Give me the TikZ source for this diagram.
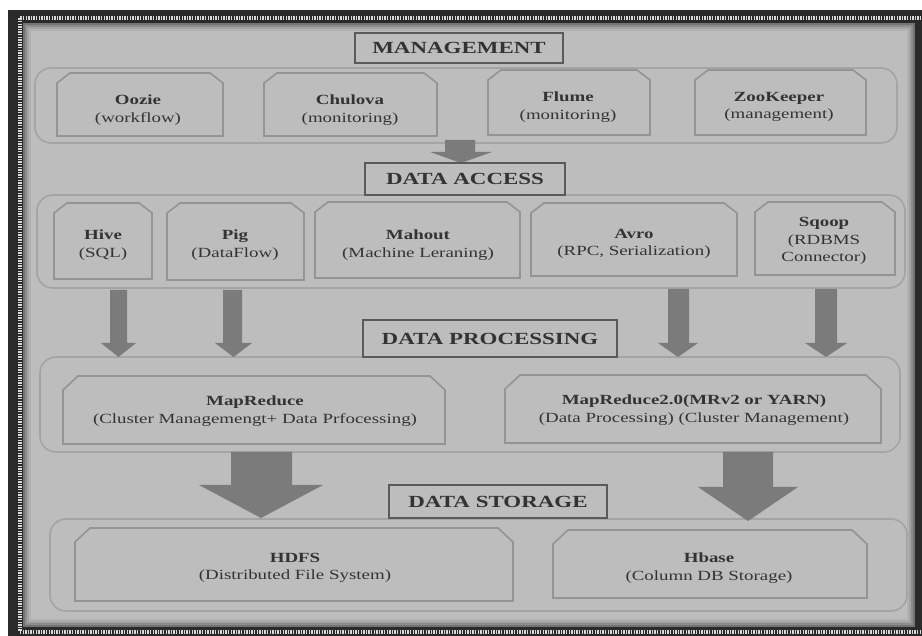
\documentclass[tikz,border=0pt]{standalone}
\usepackage{fontspec}
\setmainfont{Liberation Serif}
\newfontfamily\dfont[FakeStretch=1.35]{Liberation Serif}
\definecolor{bgc}{HTML}{BDBDBD}
\definecolor{framec}{HTML}{2A2A2A}
\definecolor{arrc}{HTML}{7B7B7B}
\definecolor{boxc}{HTML}{949494}
\definecolor{contc}{HTML}{A4A4A4}
\definecolor{headc}{HTML}{5A5A5A}
\definecolor{txtc}{HTML}{333333}
\newcommand\cbox[7]{%
  \draw[boxline] (#2,#5) -- (#2,{#3+#7}) -- ({#2+#6},#3) -- ({#4-#6},#3) -- (#4,{#3+#7}) -- (#4,#5) -- cycle;
  \coordinate (#1) at ({(#2+#4)/2},{(#3+#5)/2});}
\newcommand\darrow[8]{% name, shaft x1, x2, top, head y, head x1, x2, tip y
  \fill[arrc] (#2,#4) -- (#3,#4) -- (#3,#5) -- (#7,#5) -- ({(#6+#7)/2},#8) -- (#6,#5) -- (#2,#5) -- cycle;
  \coordinate (#1) at ({(#6+#7)/2},#8);}
\begin{document}
\begin{tikzpicture}[x=1pt,y=-1pt,
  container/.style={draw=contc, line width=1.6pt, rounded corners=16pt, fill=bgc, inner sep=0pt},
  boxline/.style={draw=boxc, line width=1.6pt},
  head/.style={draw=headc, line width=2pt, fill=bgc, inner sep=0pt, text=txtc,
     font=\dfont\bfseries\fontsize{17}{20}\selectfont},
  txt/.style={align=center, text=txtc, inner sep=0pt, font=\dfont\fontsize{14}{17.5}\selectfont}]
\useasboundingbox (0,0) rectangle (922,636);
\fill[white] (0,0) rectangle (922,636);
% frame
\fill[framec] (8,10) rectangle (922,636);
\draw[white!85!black, line width=4pt, dash pattern=on 1.3pt off 1.3pt] (19.5,18.5) rectangle (926,631.5);
\fill[black!55] (23,23) rectangle (915,627);
\fill[black!45] (25,25) rectangle (913,625);
\fill[black!36] (27,27) rectangle (911,623);
\fill[black!30] (29,29) rectangle (909,621);
\fill[bgc] (31,31) rectangle (907,619);
% containers
\node[container, minimum width=862pt, minimum height=75pt] (cmgmt) at (466,105.5) {};
\node[container, minimum width=868pt, minimum height=93pt] (cacc) at (471,241.5) {};
\node[container, minimum width=860pt, minimum height=95pt] (cproc) at (470,404.5) {};
\node[container, minimum width=857pt, minimum height=92pt] (cstor) at (478.5,565) {};
% management boxes
\cbox{boozie}{57}{73}{223}{136}{13}{10}
\cbox{bchu}{264}{73}{437}{136}{13}{10}
\cbox{bflume}{488}{70}{650}{135}{13}{10}
\cbox{bzoo}{695}{70}{866}{135}{13}{10}
\node[txt] (oozie) at (138,110) {\textbf{Oozie}\\(workflow)};
\node[txt] (chukwa) at (350,110) {\textbf{Chulova}\\(monitoring)};
\node[txt] (flume) at (568,107) {\textbf{Flume}\\(monitoring)};
\node[txt] (zoo) at (779,107) {\textbf{ZooKeeper}\\(management)};
% data access boxes
\cbox{bhive}{54}{203}{152}{279}{13}{10}
\cbox{bpig}{167}{203}{304}{280}{13}{10}
\cbox{bmah}{315}{202}{520}{278}{13}{10}
\cbox{bavro}{531}{203}{737}{276}{13}{10}
\cbox{bsqoop}{755}{202}{895}{275}{13}{10}
\node[txt] (hive) at (103,245) {\textbf{Hive}\\(SQL)};
\node[txt] (pig) at (235,245) {\textbf{Pig}\\(DataFlow)};
\node[txt] (mahout) at (418,245) {\textbf{Mahout}\\(Machine Leraning)};
\node[txt] (avro) at (634,244) {\textbf{Avro}\\(RPC, Serialization)};
\node[txt] (sqoop) at (824,241) {\textbf{Sqoop}\\(RDBMS\\Connector)};
% processing boxes
\cbox{bmr}{63}{376}{445}{444}{15}{14}
\cbox{bmr2}{505}{375}{881}{443}{15}{14}
\node[txt] (mr) at (255,411) {\textbf{MapReduce}\\(Cluster Managemengt+ Data Prfocessing)};
\node[txt] (mr2) at (694,410) {\textbf{MapReduce2.0(MRv2 or YARN)}\\(Data Processing) (Cluster Management)};
% storage boxes
\cbox{bhdfs}{75}{528}{513}{601}{15}{14}
\cbox{bhbase}{553}{530}{867}{598}{15}{14}
\node[txt] (hdfs) at (295,568) {\textbf{HDFS}\\(Distributed File System)};
\node[txt] (hbase) at (709,568) {\textbf{Hbase}\\(Column DB Storage)};
% arrows
\darrow{a0}{445}{475}{140}{152}{430}{492}{163}
\darrow{a1}{110}{127}{290}{343}{101}{136}{357}
\darrow{a2}{223}{242}{290}{343}{215}{252}{357}
\darrow{a3}{668}{689}{289}{343}{658}{698}{357}
\darrow{a4}{815}{837}{289}{343}{805}{847}{357}
\darrow{a5}{231}{292}{452}{485}{199}{323}{518}
\darrow{a6}{723}{773}{452}{487}{698}{798}{521}
% headings
\node[head, minimum width=208pt, minimum height=30pt] (hmgmt) at (459,48) {MANAGEMENT};
\node[head, minimum width=200pt, minimum height=32pt] (hacc) at (465,179) {DATA ACCESS};
\node[head, minimum width=254pt, minimum height=37pt] (hproc) at (490,338.5) {DATA PROCESSING};
\node[head, minimum width=218pt, minimum height=33pt] (hstor) at (498,501.5) {DATA STORAGE};
\end{tikzpicture}
\end{document}
